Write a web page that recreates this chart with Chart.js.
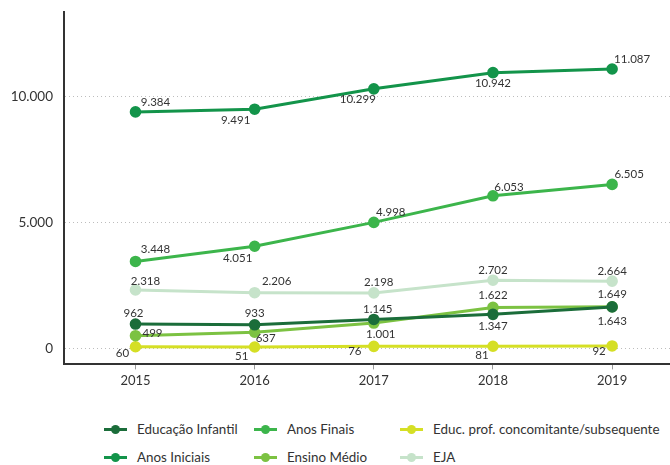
<!DOCTYPE html>
<html>
<head>
<meta charset="utf-8">
<script src="https://cdn.jsdelivr.net/npm/chart.js@4"></script>
<style>
  body { margin: 0; background: #fff; font-family: Lato, "Liberation Sans", sans-serif; }
  #wrap { position: relative; width: 670px; height: 465px; overflow: hidden; }
  #chart { position: absolute; left: 0; top: 0; }
  #legend {
    position: absolute; left: 104px; top: 419px;
    display: grid; grid-auto-flow: column; grid-template-rows: 28px 28px;
    grid-template-columns: 150px 146px 250px;
    font-size: 13.4px; color: #333; white-space: nowrap;
  }
  .item { display: flex; align-items: center; height: 20px; }
  .sym { position: relative; width: 23px; height: 10px; margin-right: 10px; flex: none; }
  .sym .ln { position: absolute; left: 0; right: 0; top: 4px; height: 3px; }
  .sym .dot { position: absolute; left: 7px; top: 1px; width: 9px; height: 9px; border-radius: 50%; }
</style>
</head>
<body>
<div id="wrap">
  <canvas id="chart" width="679" height="393"></canvas>
  <div id="legend"></div>
</div>
<script>
// --- DATA ---
const years = [2015, 2016, 2017, 2018, 2019];
const yTicks = [0, 5000, 10000];

const educInfantil = [962, 933, 1145, 1347, 1643];
const anosIniciais = [9384, 9491, 10299, 10942, 11087];
const anosFinais = [3448, 4051, 4998, 6053, 6505];
const ensinoMedio = [499, 637, 1001, 1622, 1649];
const educProf = [60, 51, 76, 81, 92];
const eja = [2318, 2206, 2198, 2702, 2664];

// --- SERIES (label, values, colour, label offsets) ---
const series = [
    { name: 'Educação Infantil', values: educInfantil, color: '#1b6d3a',
      pos: [[-2, -11], [0, -11], [4, -10], [0, 12], [0, 14]] },
    { name: 'Anos Iniciais', values: anosIniciais, color: '#13944a',
      pos: [[20, -10], [-19, 11], [-16, 10], [0, 11], [20, -10]] },
    { name: 'Anos Finais', values: anosFinais, color: '#3cb54b',
      pos: [[20, -12], [-17, 12], [17, -10], [16, -9], [17, -10]] },
    { name: 'Ensino Médio', values: ensinoMedio, color: '#7cc242',
      pos: [[17, -2], [11, 6], [7, 11], [0, -12], [0, -12]] },
    { name: 'Educ. prof. concomitante/subsequente', values: educProf, color: '#d5df25',
      pos: [[-13, 7], [-13, 9], [-19, 5], [-11, 9], [-13, 5]] },
    { name: 'EJA', values: eja, color: '#c6e3ca',
      pos: [[10, -9], [22, -11], [5, -11], [0, -10], [0, -10]] }
];

const fmt = v => v.toLocaleString('pt-BR');
const FONT = 'Lato, "Liberation Sans", sans-serif';

// --- DATA LABELS ---
const valueLabels = {
    id: 'valueLabels',
    afterDatasetsDraw(chart) {
        const ctx = chart.ctx;
        ctx.save();
        ctx.font = '11.5px ' + FONT;
        ctx.fillStyle = '#333';
        ctx.textAlign = 'center';
        ctx.textBaseline = 'middle';
        chart.data.datasets.forEach((ds, i) => {
            const meta = chart.getDatasetMeta(i);
            meta.data.forEach((pt, j) => {
                const [dx, dy] = series[i].pos[j];
                ctx.fillText(fmt(ds.data[j].y), pt.x + dx, pt.y + dy);
            });
        });
        ctx.restore();
    }
};

new Chart(document.getElementById('chart'), {
    type: 'line',
    data: {
        datasets: series.map(s => ({
            label: s.name,
            data: s.values.map((v, i) => ({ x: years[i], y: v })),
            borderColor: s.color,
            backgroundColor: s.color,
            borderWidth: 3,
            pointRadius: 4.3,
            pointHoverRadius: 4.3,
            tension: 0
        }))
    },
    options: {
        responsive: false,
        animation: false,
        layout: { padding: { top: 12, right: 0, left: 0, bottom: 0 } },
        plugins: { legend: { display: false }, tooltip: { enabled: false } },
        scales: {
            x: {
                type: 'linear',
                min: 2014.4,
                max: 2019.5,
                afterBuildTicks: ax => { ax.ticks = years.map(v => ({ value: v })); },
                border: { display: true, color: '#333', width: 2 },
                grid: { drawOnChartArea: false, drawTicks: true, tickLength: 5, color: '#999' },
                ticks: {
                    callback: v => String(v),
                    color: '#333',
                    padding: 4,
                    font: { size: 13, family: FONT }
                }
            },
            y: {
                min: -640,
                max: 13350,
                afterBuildTicks: ax => { ax.ticks = yTicks.map(v => ({ value: v })); },
                afterFit: ax => { ax.width = 64; ax.paddingTop = 0; ax.paddingBottom = 0; },
                border: { display: true, color: '#333', width: 2, dash: [1, 3] },
                grid: { drawTicks: false, color: '#bdbdbd', lineWidth: 1 },
                ticks: {
                    callback: v => fmt(v),
                    color: '#333',
                    padding: 11,
                    font: { size: 13.5, family: FONT }
                }
            }
        }
    },
    plugins: [valueLabels]
});

// --- LEGEND ---
const legend = document.getElementById('legend');
series.forEach(s => {
    const el = document.createElement('div');
    el.className = 'item';
    el.innerHTML = `<span class="sym"><span class="ln" style="background:${s.color}"></span>` +
        `<span class="dot" style="background:${s.color}"></span></span>${s.name}`;
    legend.appendChild(el);
});
</script>
</body>
</html>
